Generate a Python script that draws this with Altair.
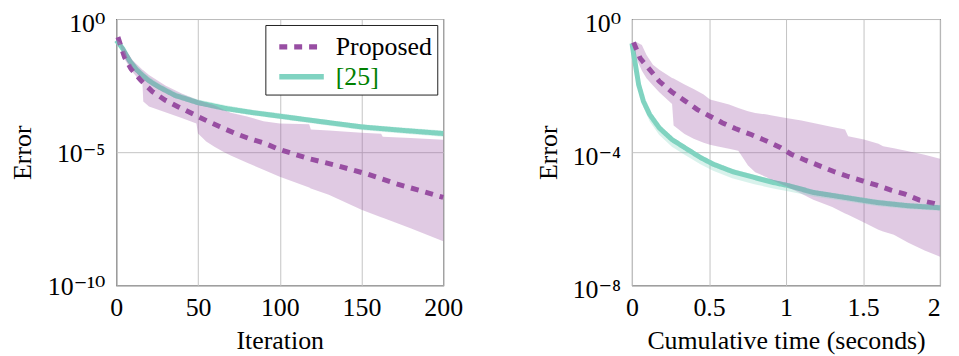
import altair as alt
import pandas as pd
import math

FONT = "Liberation Serif, DejaVu Serif"
PURPLE = "#984EA3"
TEAL = "#80D3C1"
GRID = "#c4c4c4"
BORDER = "#222222"
SERIES = ["Proposed", "[25]"]

# ---------------- Left panel: error vs iteration (log10 of error) ----------------
it_prop_x = [1, 5, 9, 15, 22, 30, 38, 47, 56, 65, 73, 81, 91, 99, 117, 136, 154, 172, 188, 200]
it_prop_mid = [-0.68, -1.43, -1.87, -2.30, -2.72, -3.05, -3.30, -3.57, -3.84, -4.09, -4.30,
               -4.48, -4.67, -4.88, -5.23, -5.52, -5.83, -6.20, -6.48, -6.70]

it_pband_x = [1, 3, 5, 10, 16, 16.5, 20, 30, 40, 49, 50, 55, 60, 66, 70, 80, 90, 100,
              118, 119, 130, 150, 162, 163, 180, 200]
it_pband_hi = [-0.66, -0.90, -1.10, -1.55, -1.90, -1.92, -2.10, -2.50, -2.80, -3.02, -3.04,
               -3.14, -3.24, -3.42, -3.52, -3.66, -3.84, -3.92, -3.95, -4.15, -4.19, -4.27,
               -4.31, -4.42, -4.47, -4.53]
it_pband_lo = [-0.72, -1.10, -1.50, -2.00, -2.42, -3.10, -3.28, -3.50, -3.72, -3.92, -4.30,
               -4.60, -4.80, -5.00, -5.12, -5.40, -5.66, -5.92, -6.33, -6.36, -6.60, -7.16,
               -7.44, -7.46, -7.86, -8.34]

it_teal_x = [0, 2, 4, 8, 12, 16, 20, 26, 36, 50, 67, 83, 99, 125, 150, 175, 200]
it_teal_mid = [-0.80, -0.95, -1.12, -1.56, -1.88, -2.12, -2.32, -2.55, -2.87, -3.14, -3.36,
               -3.51, -3.64, -3.85, -4.05, -4.18, -4.30]
it_teal_hi = [-0.77, -0.87, -1.00, -1.41, -1.72, -1.96, -2.17, -2.41, -2.74, -3.02, -3.24,
              -3.41, -3.53, -3.75, -3.95, -4.07, -4.19]
it_teal_lo = [-0.83, -1.01, -1.20, -1.66, -1.98, -2.22, -2.42, -2.65, -2.97, -3.24, -3.46,
              -3.61, -3.74, -3.96, -4.17, -4.30, -4.42]

# ---------------- Right panel: error vs cumulative time (log10 of error) ----------------
t_prop_x = [0.01, 0.053, 0.115, 0.177, 0.259, 0.341, 0.424, 0.506, 0.588, 0.67, 0.773, 0.877,
            0.959, 1.033, 1.125, 1.218, 1.31, 1.403, 1.496, 1.588, 1.681, 1.773, 1.866, 1.959, 2.0]
t_prop_mid = [-0.70, -1.18, -1.52, -1.87, -2.19, -2.45, -2.72, -2.92, -3.12, -3.29, -3.47, -3.67,
              -3.85, -4.06, -4.24, -4.41, -4.58, -4.73, -4.86, -4.99, -5.14, -5.26, -5.44, -5.54, -5.59]

t_pband_x = [0.01, 0.03, 0.064, 0.094, 0.136, 0.177, 0.26, 0.27, 0.341, 0.40, 0.465, 0.506, 0.55,
             0.63, 0.69, 0.753, 0.80, 0.877, 0.90, 1.00, 1.10, 1.177, 1.30, 1.383, 1.403, 1.506,
             1.60, 1.63, 1.70, 1.794, 1.90, 2.0]
t_pband_hi = [-0.68, -0.70, -0.78, -1.08, -1.37, -1.52, -1.77, -1.79, -1.97, -2.10, -2.27, -2.42,
              -2.47, -2.57, -2.67, -2.77, -2.82, -2.87, -2.89, -2.97, -3.05, -3.12, -3.24, -3.32,
              -3.52, -3.62, -3.75, -3.82, -3.88, -3.97, -4.08, -4.20]
t_pband_lo = [-0.75, -1.20, -1.55, -1.78, -2.00, -2.20, -2.55, -3.20, -3.45, -3.60, -3.72, -3.78,
              -3.82, -3.90, -3.96, -4.40, -4.60, -4.76, -4.82, -5.02, -5.25, -5.43, -5.65, -5.84,
              -5.88, -6.11, -6.33, -6.38, -6.48, -6.72, -6.95, -7.14]

t_teal_x = [0, 0.01, 0.022, 0.043, 0.074, 0.115, 0.177, 0.259, 0.341, 0.444, 0.527, 0.65, 0.794,
            0.917, 1.02, 1.177, 1.383, 1.588, 1.794, 2.0]
t_teal_mid = [-0.73, -1.05, -1.37, -1.97, -2.47, -2.87, -3.27, -3.62, -3.86, -4.16, -4.36, -4.58,
              -4.76, -4.91, -5.01, -5.21, -5.36, -5.51, -5.61, -5.67]
t_teal_hi = [-0.72, -1.00, -1.30, -1.88, -2.38, -2.78, -3.18, -3.53, -3.79, -4.08, -4.28, -4.50,
             -4.68, -4.83, -4.93, -5.13, -5.28, -5.42, -5.53, -5.59]
t_teal_lo = [-0.75, -1.12, -1.50, -2.12, -2.65, -3.08, -3.48, -3.84, -4.08, -4.36, -4.56, -4.78,
             -4.96, -5.09, -5.18, -5.33, -5.47, -5.62, -5.71, -5.76]

# axis ticks / labels
left_xticks = [0, 50, 100, 150, 200]
left_yticks = [1, 1e-5, 1e-10]
left_ylabels = ["10⁰", "10⁻⁵", "10⁻¹⁰"]
right_xticks = [0, 0.5, 1, 1.5, 2]
right_yticks = [1, 1e-4, 1e-8]
right_ylabels = ["10⁰", "10⁻⁴", "10⁻⁸"]


def pw(v):
    return [10 ** e for e in v]


def label_expr(ticks, labels):
    expr = "''"
    for t, l in zip(reversed(ticks), reversed(labels)):
        e = round(math.log10(t))
        expr = f"round(log(datum.value)/LN10) == {e} ? '{l}' : ({expr})"
    return expr


def panel(px, pmid, bx, bhi, blo, tx, tmid, thi, tlo, xdom, ydom, xticks, yticks, ylabels,
          xtitle, ext, ytpad, yoff, xalign, show_legend):
    lines = pd.concat([
        pd.DataFrame({"x": tx, "err": pw(tmid), "series": SERIES[1]}),
        pd.DataFrame({"x": px, "err": pw(pmid), "series": SERIES[0]}),
    ])
    pband = pd.DataFrame({"x": bx, "hi": pw(bhi), "lo": pw(blo)})
    tband = pd.DataFrame({"x": tx, "hi": pw(thi), "lo": pw(tlo)})

    xs = alt.Scale(domain=xdom, nice=False, zero=False)
    ys = alt.Scale(type="log", domain=ydom, nice=False)
    xaxis = alt.Axis(values=xticks, grid=True, gridColor=GRID, gridWidth=1, domain=False,
                     ticks=False, tickSize=0, labelFlush=False, labelOverlap=False,
                     labelFont=FONT, labelFontSize=26, labelColor="black", labelPadding=9,
                     labelAlign=xalign,
                     labelExpr="'' + datum.value", title=xtitle, titleFont=FONT,
                     titleFontSize=26, titleFontWeight="normal", titleColor="black",
                     titlePadding=8, minExtent=35, maxExtent=35)
    yaxis = alt.Axis(values=yticks, grid=True, gridColor=GRID, gridWidth=1, domain=False,
                     ticks=False, tickSize=0, labelOverlap=False, labelFont=FONT,
                     labelFontSize=26, labelColor="black", labelPadding=11.5,
                     labelExpr=label_expr(yticks, ylabels), labelOffset=yoff,
                     title="Error", titleFont=FONT, titleFontSize=26, titleFontWeight="normal",
                     titleColor="black", titlePadding=ytpad, minExtent=ext, maxExtent=ext)
    if show_legend:
        leg = alt.Legend(title=None, orient="top-right", offset=6, padding=5,
                         strokeColor=BORDER, fillColor="white",
                         labelFont=FONT, labelFontSize=26,
                         labelColor=alt.ExprRef("datum.label == '[25]' ? '#008000' : 'black'"),
                         labelExpr="datum.label + '\u00a0\u00a0'",
                         symbolType="M-0.57,0L2.63,0", symbolSize=784, symbolStrokeWidth=5.5,
                         labelOffset=31.8, rowPadding=0)
    else:
        leg = None
    cscale = alt.Scale(domain=SERIES, range=[PURPLE, TEAL])
    dscale = alt.Scale(domain=SERIES, range=[[8, 7], [1, 0]])
    line_layer = alt.Chart(lines).mark_line(strokeWidth=5, strokeCap="butt").encode(
        x=alt.X("x:Q", scale=xs, axis=xaxis),
        y=alt.Y("err:Q", scale=ys, axis=yaxis),
        color=alt.Color("series:N", scale=cscale, legend=leg),
        strokeDash=alt.StrokeDash("series:N", scale=dscale, legend=leg),
        order=alt.Order("x:Q"),
    )
    pb = alt.Chart(pband).mark_area(color=PURPLE, opacity=0.3).encode(
        x=alt.X("x:Q", scale=xs), y=alt.Y("hi:Q", scale=ys), y2="lo:Q")
    tb = alt.Chart(tband).mark_area(color=TEAL, opacity=0.3).encode(
        x=alt.X("x:Q", scale=xs), y=alt.Y("hi:Q", scale=ys), y2="lo:Q")
    return alt.layer(line_layer, pb, tb)


left = panel(it_prop_x, it_prop_mid, it_pband_x, it_pband_hi, it_pband_lo,
             it_teal_x, it_teal_mid, it_teal_hi, it_teal_lo,
             [0, 200], [1e-10, 1], left_xticks, left_yticks, left_ylabels,
             "Iteration", 70, 11.7,
             {"condition": {"test": "datum.value > 0.5", "value": 4.5}, "value": 1.5},
             "center", True).properties(width=329, height=268)

right = panel(t_prop_x, t_prop_mid, t_pband_x, t_pband_hi, t_pband_lo,
              t_teal_x, t_teal_mid, t_teal_hi, t_teal_lo,
              [0, 2.0], [1e-8, 1], right_xticks, right_yticks, right_ylabels,
              "Cumulative time (seconds)", 60, 10.7, 4.5,
              {"condition": {"test": "datum.value >= 1.99", "value": "right"}, "value": "center"},
              False).properties(width=310, height=268)

chart = alt.concat(left, right, columns=2, spacing=71, align="none").resolve_scale(
    color="independent", strokeDash="independent"
).resolve_legend(color="independent", strokeDash="independent").properties(
    padding={"left": 0, "top": 0, "right": 0, "bottom": 0}
).configure_view(stroke=BORDER, strokeWidth=1.1).configure_legend(strokeWidth=1)

chart.save("out.html", embed_options={"renderer": "svg", "actions": False})
